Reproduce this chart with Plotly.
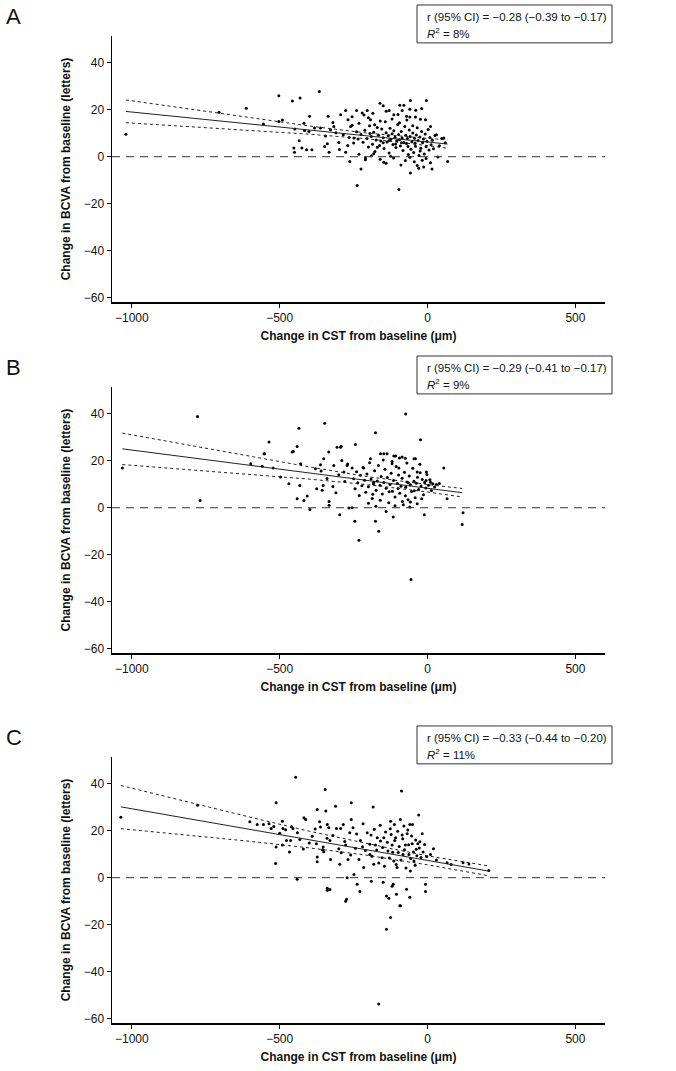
import plotly.graph_objects as go

# ---- data ----
# panel A: (change in CST [um], change in BCVA [letters])
pts_a = [
    (-1020, 9.6), (-705, 18.9), (-613, 20.7), (-503, 26.0), (-457, 23.8), (-431, 25.0), (-366, 27.8),
    (-555, 13.9), (-503, 15.0), (-491, 15.6), (-449, 11.8), (-418, 14.3), (-399, 17.2), (-452, 3.7),
    (-450, 1.9), (-434, 6.8), (-425, 3.7), (-409, 3.0), (-391, 3.0), (-416, 11.2), (-401, 10.8),
    (-382, 12.2), (-362, 12.2), (-336, 17.2), (-339, 5.5), (-333, 1.9), (-348, 4.4), (-328, 11.5),
    (-317, 12.9), (-294, 17.9), (-277, 19.7), (-269, 15.8), (-260, 12.9), (-249, 8.0), (-240, 19.7),
    (-232, 14.3), (-221, 18.6), (-204, 19.7), (-193, 15.8), (-179, 13.6), (-161, 22.8), (-150, 21.7),
    (-130, 19.7), (-114, 17.9), (-94, 21.9), (-80, 21.9), (-86, 19.7), (-58, 24.0), (-4, 24.0),
    (-71, 17.2), (-60, 16.9), (-41, 16.9), (-24, 16.0), (-7, 15.8), (10, 12.9), (30, 9.4), (55, 8.0),
    (68, -2.0), (35, -0.1), (15, -5.2), (-13, -4.4), (-35, -3.8), (-58, -6.9), (-97, -14.0),
    (-238, -12.3), (-225, -5.2), (-210, -1.3), (-263, -2.0), (-277, 1.9), (-148, -2.4), (-182, 1.3),
    (-125, 0.2),
    (-225, 9.5), (-218, 6.2), (-212, 11.3), (-205, 7.8), (-200, 4.1), (-196, 13.2), (-190, 8.6),
    (-186, 5.3), (-182, 10.4), (-178, 2.2), (-174, 7.1), (-170, 12.5), (-166, 9.2), (-162, 4.8),
    (-158, 6.7), (-155, 11.8), (-150, 8.1), (-147, 3.5), (-143, 14.9), (-140, 10.2), (-137, 6.3),
    (-133, 8.9), (-130, 1.6), (-127, 12.1), (-124, 7.4), (-120, 9.8), (-117, 5.2), (-114, 11.1),
    (-110, 8.3), (-107, 3.9), (-104, 6.8), (-101, 13.7), (-98, 9.5), (-95, 7.2), (-92, 4.6),
    (-89, 10.8), (-86, 8.0), (-83, 2.7), (-80, 6.1), (-77, 12.9), (-74, 9.1), (-71, 5.6), (-68, 7.8),
    (-65, 0.9), (-62, 11.4), (-59, 8.6), (-56, 3.2), (-53, 6.4), (-50, 10.1), (-47, 1.8), (-44, 7.9),
    (-41, 4.5), (-38, 9.3), (-35, 12.3), (-32, 6.9), (-29, 0.5), (-26, 8.4), (-23, 3.6), (-20, 10.7),
    (-17, 5.9), (-14, 7.5), (-11, 1.2), (-8, 9.7), (-5, 4.2), (-2, 6.6), (2, 11.6), (5, 2.9), (8, 8.2),
    (12, 5.1), (16, 7.0), (20, 3.4), (25, 9.0), (-95, 14.5), (-70, 15.6), (-50, 13.2), (-120, 16.1),
    (-160, 15.2), (-200, 16.6), (-240, 10.6), (-250, 5.8), (-255, 13.4), (-265, 8.2), (-285, 9.4),
    (-300, 6.1), (-310, 10.2), (-320, 14.6), (-345, 8.8), (-298, 3.1), (-270, 4.8), (-232, 1.1),
    (-210, -0.6), (-190, 0.4), (-160, -1.1), (-140, -2.8), (-115, -0.5), (-90, -3.5), (-75, -1.6),
    (-60, -0.2), (-45, -2.2), (-30, -4.9), (-18, -1.5), (-5, -0.8), (10, -2.6), (40, 4.7), (48, 7.8),
    (60, 6.0), (-255, 17.0), (-215, 17.8), (-185, 18.5), (-140, 19.4), (-100, 18.0), (-40, 19.8),
    (-20, 20.5), (-60, 20.2), (-130, 6.9), (-108, 5.4), (-88, 6.0), (-66, 4.3), (-42, 5.7),
    (-25, 2.4), (-150, 5.9), (-170, 4.0), (-195, 9.9), (-235, 7.6),
]

pts_b = [
    (-778, 38.9), (-435, 33.9), (-536, 28.0), (-348, 36.0), (-176, 32.0), (-74, 39.9), (-24, 29.0),
    (-553, 23.0), (-454, 24.0), (-441, 26.1), (-334, 23.7), (-306, 25.8), (-294, 25.8), (-244, 27.0),
    (-148, 23.0), (-108, 22.0), (-86, 21.6), (-41, 20.9), (55, 16.9),
    (-1032, 16.9), (-769, 3.1), (-598, 18.7), (-551, 23.0), (-559, 17.7), (-522, 16.9), (-497, 13.1),
    (-469, 10.2), (-458, 23.7), (-429, 18.7), (-441, 3.8), (-418, 3.1), (-407, 5.0), (-398, -0.8),
    (-432, 9.5), (-375, 8.1), (-356, 7.4), (-353, 9.5), (-333, 2.7), (-333, 1.0), (-379, 16.6),
    (-362, 18.3), (-351, 20.9), (-317, 18.0), (-292, 26.2), (-283, 15.2), (-272, 18.0), (-255, 16.9),
    (-297, -3.0), (-266, -0.1), (-255, 0.0), (-246, -5.8), (-232, -13.9), (-216, 16.9), (-193, 20.9),
    (-182, 10.9), (-176, -5.8), (-165, -10.0), (-159, 23.0), (-137, 23.0), (-120, 18.7), (-116, -4.0),
    (-114, 22.0), (-97, 16.9), (-75, 21.1), (-58, 2.4), (-46, 20.9), (-35, 15.2), (-11, -3.0),
    (-4, 15.2), (10, 10.9), (66, 3.8), (120, -2.1), (117, -7.2), (-56, -30.6),
    (-250, 12.4), (-245, 8.1), (-240, 15.3), (-236, 10.6), (-231, 5.2), (-227, 13.8), (-222, 9.4),
    (-218, 17.1), (-213, 11.7), (-209, 6.6), (-205, 14.4), (-200, 8.9), (-196, 19.2), (-191, 12.2),
    (-187, 3.9), (-183, 10.1), (-179, 15.8), (-174, 7.5), (-170, 11.4), (-166, 18.0), (-161, 9.6),
    (-157, 13.3), (-153, 5.8), (-148, 10.8), (-144, 16.4), (-140, 8.3), (-136, 12.9), (-131, 2.1),
    (-127, 9.9), (-123, 14.7), (-119, 7.0), (-115, 11.6), (-110, 4.6), (-106, 17.6), (-102, 10.3),
    (-98, 13.9), (-94, 6.2), (-90, 9.1), (-86, 12.6), (-82, 1.3), (-78, 15.1), (-74, 8.7), (-70, 11.0),
    (-66, 3.4), (-62, 13.5), (-58, 9.8), (-54, 6.9), (-50, 16.8), (-46, 11.3), (-42, 4.2), (-38, 10.4),
    (-34, 13.0), (-30, 7.8), (-26, 18.5), (-22, 9.3), (-18, 12.0), (-14, 5.5), (-10, 10.7), (-6, 8.4),
    (-2, 14.2), (3, 9.6), (8, 11.9), (13, 7.3), (18, 10.2), (24, 8.8), (30, 9.9), (40, 10.3),
    (-280, 11.2), (-300, 14.1), (-320, 9.0), (-340, 12.5), (-360, 15.7), (-310, 6.4), (-290, 20.1),
    (-270, 18.6), (-150, 20.3), (-120, 19.7), (-95, 21.2), (-70, 19.1), (-200, 1.9), (-175, 0.6),
    (-140, -1.6), (-110, 0.8), (-85, 2.6), (-60, 0.3), (-35, 1.7), (-185, 5.7), (-160, 3.2),
    (-130, 6.8), (-75, 5.1), (-45, 7.2), (-20, 3.8), (-100, 8.2), (-65, 10.6), (-25, 14.9), (-5, 11.6),
]

pts_c = [
    (-1037, 25.8), (-778, 30.9), (-601, 23.8), (-576, 22.7), (-555, 22.7), (-536, 23.0), (-529, 21.0),
    (-512, 31.9), (-491, 24.1), (-489, 21.0), (-514, 6.0), (-512, 13.1), (-491, 13.9), (-477, 15.9),
    (-467, 10.9), (-463, 15.9), (-455, 21.0), (-446, 42.8), (-441, -0.7), (-432, 16.3), (-418, 25.5),
    (-412, 24.8), (-390, 17.7), (-376, 14.5), (-373, 29.1), (-373, 8.8), (-373, 6.8), (-365, 23.8),
    (-362, 21.6), (-353, 13.1), (-351, 11.1), (-346, 37.6), (-344, 28.4), (-339, 22.7), (-339, -4.5),
    (-339, -5.4), (-334, 21.3), (-330, 15.9), (-328, 7.8), (-311, 30.5), (-308, 21.0), (-294, 21.0),
    (-297, 5.7), (-292, 10.6), (-285, 22.7), (-277, 13.9), (-274, -9.2), (-272, 0.0), (-269, 7.8),
    (-263, 19.2), (-258, 31.9), (-258, 24.8), (-252, 21.3), (-249, 1.4), (-244, 12.5), (-238, -2.8),
    (-232, 7.8), (-229, -5.9), (-227, 15.9), (-218, 23.0), (-216, 4.3), (-210, 11.6), (-204, 19.2),
    (-195, 9.9), (-191, 18.2), (-184, 30.1), (-182, 5.7), (-176, 13.9), (-170, 17.0), (-159, 15.6),
    (-154, 8.5), (-148, 17.0), (-139, -7.8), (-134, 11.4), (-131, -8.8), (-125, 24.1), (-123, 18.4),
    (-120, 13.9), (-116, -2.8), (-114, 7.1), (-112, 22.7), (-108, 17.0), (-105, -7.1), (-103, 4.3),
    (-99, 10.7), (-94, -12.0), (-92, 24.8), (-88, 36.9), (-86, 18.2), (-83, 9.9), (-80, 22.0),
    (-75, 13.9), (-71, -4.9), (-69, 18.7), (-63, 9.9), (-60, 22.7), (-58, 2.8), (-52, 14.5),
    (-51, 22.7), (-46, 7.1), (-38, 12.1), (-33, 14.5), (-30, 26.7), (-26, 15.3), (-18, 18.7),
    (-7, -2.8), (-7, -5.9), (10, 9.9), (66, 6.4), (207, 3.1),
    (-195, 14.2), (-188, 9.1), (-180, 20.6), (-172, 11.8), (-165, 6.3), (-160, 22.4), (-152, 12.9),
    (-146, 4.9), (-142, 19.5), (-136, 15.1), (-129, 8.4), (-126, 20.9), (-118, 10.8), (-111, 15.9),
    (-106, 5.6), (-101, 19.8), (-96, 13.3), (-90, 7.5), (-84, 16.6), (-78, 11.9), (-73, 4.1),
    (-67, 20.3), (-64, 14.0), (-57, 8.2), (-54, 17.8), (-48, 11.0), (-42, 5.3), (-40, 16.1),
    (-36, 9.4), (-28, 12.7), (-22, 8.6), (-15, 10.9), (-10, 14.1), (-3, 9.0), (-220, 13.2),
    (-240, 18.6), (-260, 9.7), (-280, 15.4), (-300, 12.3), (-320, 18.0), (-340, 16.8), (-355, 11.9),
    (-380, 20.8), (-400, 14.8), (-420, 12.2), (-440, 19.2), (-460, 21.7), (-480, 20.4), (-500, 18.9),
    (-520, 21.8), (-150, -2.0), (-120, -3.6), (-165, -53.8), (-139, -22.0), (-125, -17.0),
    (-91, -12.0), (-277, -10.0), (-330, -5.0), (30, 7.5), (80, 5.6), (120, 6.4), (140, 5.8),
    (20, 12.3), (-190, -1.5), (-60, -8.3),
]

# regression line with 95% confidence band, read at a few x positions
fit_x_a = [-1020, -800, -600, -400, -200, -100, 0, 68]
fit_a = [19.3, 16.5, 13.9, 11.4, 8.8, 7.55, 6.27, 5.4]
hi_a = [24.2, 20.2, 16.6, 13.1, 10.0, 8.8, 7.8, 7.2]
lo_a = [14.5, 12.8, 11.2, 9.6, 7.6, 6.3, 4.75, 3.6]

fit_x_b = [-1032, -800, -600, -400, -200, -100, 0, 117]
fit_b = [25.1, 21.3, 18.1, 14.8, 11.5, 9.9, 8.3, 6.4]
hi_b = [31.8, 26.5, 22.0, 17.4, 13.2, 11.4, 9.9, 8.2]
lo_b = [18.4, 16.1, 14.2, 12.2, 9.8, 8.4, 6.7, 4.6]

fit_x_c = [-1037, -800, -600, -400, -200, -100, 0, 207]
fit_c = [30.2, 25.0, 20.6, 16.2, 11.8, 9.6, 7.4, 2.8]
hi_c = [39.3, 31.9, 25.8, 19.8, 14.3, 11.8, 9.3, 5.0]
lo_c = [20.9, 18.1, 15.5, 12.7, 9.5, 7.4, 5.5, 0.8]

labels = ["A", "B", "C"]
r_texts = ["r (95% CI) = \u22120.28 (\u22120.39 to \u22120.17)",
           "r (95% CI) = \u22120.29 (\u22120.41 to \u22120.17)",
           "r (95% CI) = \u22120.33 (\u22120.44 to \u22120.20)"]
r2_texts = ["8%", "9%", "11%"]

x_ticks = [-1000, -500, 0, 500]
y_ticks = [-60, -40, -20, 0, 20, 40]

# ---- layout (page pixels) ----
W, H = 676, 1071
TOPS = [36, 388, 759]
PH = 267
X0, X1 = 112, 605
FONT = "Liberation Sans, Arial"


def fx_(p):
    return p / W


def fy_(p):
    return 1 - p / H


fig = go.Figure()

panels = [
    (pts_a, fit_x_a, fit_a, hi_a, lo_a),
    (pts_b, fit_x_b, fit_b, hi_b, lo_b),
    (pts_c, fit_x_c, fit_c, hi_c, lo_c),
]

for i, (pts, fx, fy, hi, lo) in enumerate(panels):
    n = i + 1
    xa, ya = ("x" if n == 1 else f"x{n}"), ("y" if n == 1 else f"y{n}")
    top = TOPS[i]
    bot = top + PH

    fig.add_trace(go.Scatter(x=[p[0] for p in pts], y=[p[1] for p in pts], mode="markers",
                             marker=dict(size=3, color="black"), xaxis=xa, yaxis=ya,
                             showlegend=False, hoverinfo="skip"))
    for yy, dash in [(hi, "3px,3px"), (lo, "3px,3px"), (fy, "solid")]:
        fig.add_trace(go.Scatter(x=fx, y=yy, mode="lines",
                                 line=dict(color="#222", width=1, dash=dash),
                                 xaxis=xa, yaxis=ya, showlegend=False, hoverinfo="skip"))

    axis_common = dict(showline=True, linecolor="black", linewidth=1.5, ticks="outside",
                       ticklen=4, tickwidth=1.2, tickcolor="black", showgrid=False,
                       zeroline=False, tickfont=dict(family=FONT, size=12, color="#111"))
    fig.layout[f"xaxis{n if n > 1 else ''}"] = dict(
        domain=[fx_(X0), fx_(X1)], anchor=ya, range=[-1067, 600], tickvals=x_ticks,
        title=dict(text="<b>Change in CST from baseline (\u03bcm)</b>", standoff=7,
                   font=dict(family=FONT, size=12, color="#111")),
        **axis_common)
    fig.layout[f"yaxis{n if n > 1 else ''}"] = dict(
        domain=[fy_(bot), fy_(top)], anchor=xa, range=[-62, 51.5], tickvals=y_ticks,
        title=dict(text="<b>Change in BCVA from baseline (letters)</b>", standoff=10,
                   font=dict(family=FONT, size=12, color="#111")),
        **axis_common)

    # zero reference line
    fig.add_shape(type="line", xref=f"{xa} domain", yref=ya, x0=0, x1=1, y0=0, y1=0,
                  line=dict(color="#333", width=1, dash="8px,6px"))

    # stats box
    fig.add_shape(type="rect", xref="paper", yref="paper",
                  x0=fx_(417), x1=fx_(612), y0=fy_(top + 7), y1=fy_(top - 31),
                  line=dict(color="#333", width=1), fillcolor="white")
    fig.add_annotation(xref="paper", yref="paper", x=fx_(425), y=fy_(top - 19),
                       xanchor="left", yanchor="middle", showarrow=False, text=r_texts[i],
                       font=dict(family=FONT, size=11.5, color="#111"))
    fig.add_annotation(xref="paper", yref="paper", x=fx_(425), y=fy_(top - 3),
                       xanchor="left", yanchor="middle", showarrow=False,
                       text=f"<i>R</i><sup>2</sup> = {r2_texts[i]}",
                       font=dict(family=FONT, size=11.5, color="#111"))
    # panel letter
    fig.add_annotation(xref="paper", yref="paper", x=fx_(4), y=fy_(top - 19),
                       xanchor="left", yanchor="middle", showarrow=False, text=labels[i],
                       font=dict(family=FONT, size=22, color="#111"))

fig.update_layout(width=W, height=H, margin=dict(l=0, r=0, t=0, b=0),
                  plot_bgcolor="white", paper_bgcolor="white",
                  font=dict(family=FONT, color="#111"))

# drop the browser's default 8px body margin so the figure fills the window
fig.write_html("out.html", config={"displayModeBar": False, "staticPlot": True},
               post_script="document.body.style.margin = '0';")
